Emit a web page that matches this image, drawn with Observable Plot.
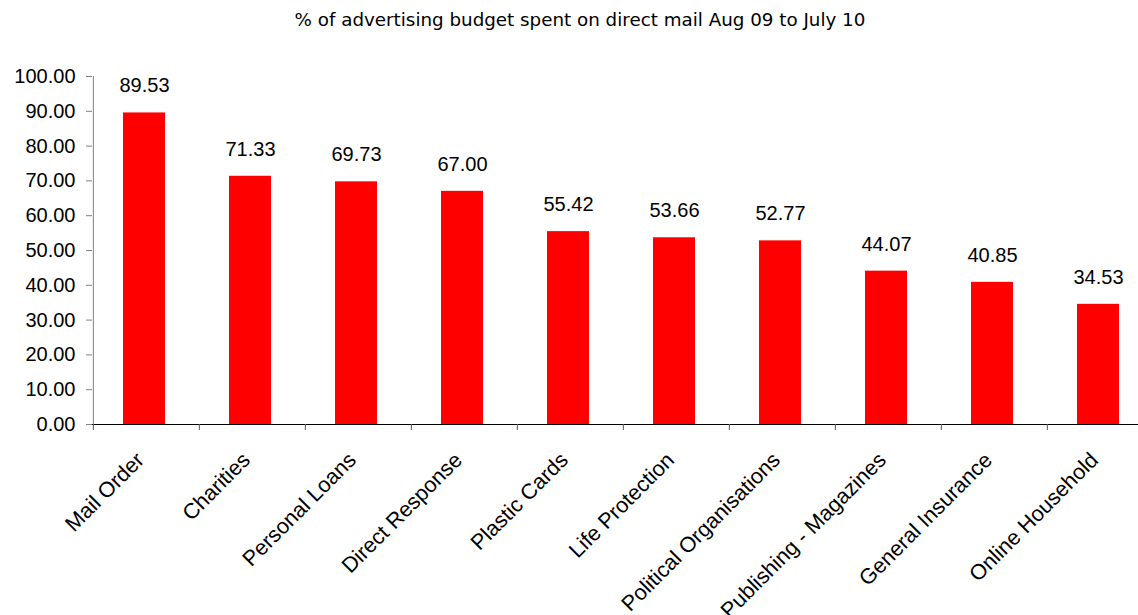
<!DOCTYPE html>
<html>
<head>
<meta charset="utf-8">
<script src="https://cdn.jsdelivr.net/npm/d3@7"></script>
<script src="https://cdn.jsdelivr.net/npm/@observablehq/plot@0.6"></script>
<style>
  html, body { margin: 0; padding: 0; background: #fff; }
  #title { height: 40px; line-height: 40px; text-align: center; font-family: "DejaVu Sans", sans-serif; font-size: 18.3px; color: #000; padding-left: 22px; box-sizing: border-box; }
</style>
</head>
<body>
<div id="title">% of advertising budget spent on direct mail Aug 09 to July 10</div>
<div id="chart"></div>
<script>
const categories = ["Mail Order", "Charities", "Personal Loans", "Direct Response", "Plastic Cards", "Life Protection", "Political Organisations", "Publishing - Magazines", "General Insurance", "Online Household"];
const values = [89.53, 71.33, 69.73, 67.00, 55.42, 53.66, 52.77, 44.07, 40.85, 34.53];
const yTicks = [0, 10, 20, 30, 40, 50, 60, 70, 80, 90, 100];

const data = categories.map((c, i) => ({category: c, value: values[i]}));

const width = 1138, height = 575, marginLeft = 92, marginRight = -17;
const step = (width - marginRight - marginLeft) / categories.length;

const chart = Plot.plot({
  width, height,
  marginLeft, marginRight, marginTop: 36, marginBottom: 191,
  style: {fontFamily: "'Liberation Sans', Arial, sans-serif", fontSize: "20px", color: "#000", background: "#fff"},
  x: {domain: categories, paddingInner: 0.6, paddingOuter: 0.3, label: null},
  y: {domain: [0, 100], label: null},
  marks: [
    Plot.barY(data, {x: "category", y: "value", fill: "#ff0000", dx: -2}),
    Plot.text(data, {x: "category", y: "value", text: d => d.value.toFixed(2), dy: -27, dx: -2, fill: "#000", fontSize: 20}),
    Plot.axisY({ticks: yTicks, tickFormat: d => d.toFixed(2), tickSize: 6, tickPadding: 11, stroke: "#808080", fill: "#000", fontSize: 20, label: null, textStroke: "none"}),
    Plot.ruleX([0], {x: () => categories[0], dx: -step / 2, y1: 0, y2: 100, stroke: "#808080"}),
    Plot.ruleY([0], {stroke: "#000"}),
    Plot.axisX({tickSize: 6, text: null, dx: -step / 2, stroke: "#555", label: null}),
    Plot.axisX({tickSize: 0, tickRotate: -45, tickPadding: 32, dx: -6, fontSize: 21.6, label: null})
  ]
});
document.getElementById("chart").appendChild(chart);
</script>
</body>
</html>
